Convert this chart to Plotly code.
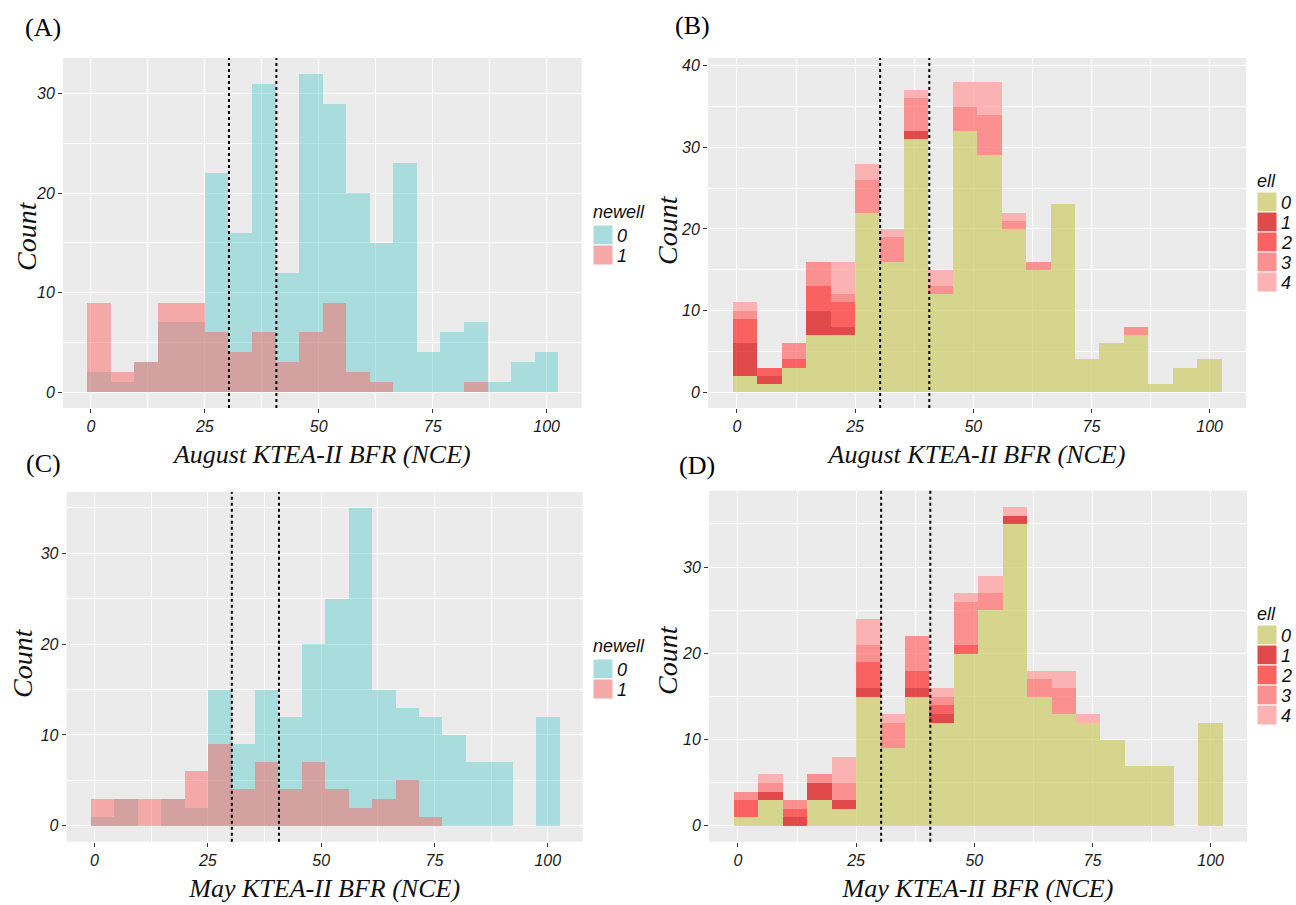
import numpy as np
import plotly.graph_objects as go
from plotly.subplots import make_subplots

# Histogram bins (NCE score), shared by all four panels
bin_centers = [1.74, 6.91, 12.08, 17.25, 22.42, 27.59, 32.76, 37.93, 43.10, 48.27,
               53.44, 58.61, 63.78, 68.95, 74.12, 79.29, 84.46, 89.63, 94.80, 99.97]
bin_width = 5.17
score_ticks = [0, 25, 50, 75, 100]
cutoffs = [30.3, 40.7]

# August counts
aug_newell0 = [2, 1, 3, 7, 7, 22, 16, 31, 12, 32, 29, 20, 15, 23, 4, 6, 7, 1, 3, 4]
aug_newell1 = [9, 2, 3, 9, 9, 6, 4, 6, 3, 6, 9, 2, 1, 0, 0, 0, 1, 0, 0, 0]
aug_ell0 = [2, 1, 3, 7, 7, 22, 16, 31, 12, 32, 29, 20, 15, 23, 4, 6, 7, 1, 3, 4]
aug_ell1 = [4, 1, 0, 3, 1, 0, 0, 1, 0, 0, 0, 0, 0, 0, 0, 0, 0, 0, 0, 0]
aug_ell2 = [3, 1, 1, 3, 3, 0, 0, 0, 0, 0, 0, 0, 0, 0, 0, 0, 0, 0, 0, 0]
aug_ell3 = [1, 0, 2, 3, 1, 4, 3, 4, 1, 3, 5, 1, 1, 0, 0, 0, 1, 0, 0, 0]
aug_ell4 = [1, 0, 0, 0, 4, 2, 1, 1, 2, 3, 4, 1, 0, 0, 0, 0, 0, 0, 0, 0]

# May counts
may_newell0 = [1, 3, 0, 3, 2, 15, 9, 15, 12, 20, 25, 35, 15, 13, 12, 10, 7, 7, 0, 12]
may_newell1 = [3, 3, 3, 3, 6, 9, 4, 7, 4, 7, 4, 2, 3, 5, 1, 0, 0, 0, 0, 0]
may_ell0 = [1, 3, 0, 3, 2, 15, 9, 15, 12, 20, 25, 35, 15, 13, 12, 10, 7, 7, 0, 12]
may_ell1 = [0, 1, 1, 2, 1, 1, 0, 1, 1, 0, 0, 1, 0, 0, 0, 0, 0, 0, 0, 0]
may_ell2 = [2, 0, 1, 0, 0, 3, 0, 2, 1, 1, 0, 0, 0, 0, 0, 0, 0, 0, 0, 0]
may_ell3 = [1, 1, 1, 1, 2, 2, 3, 4, 1, 5, 2, 0, 2, 3, 0, 0, 0, 0, 0, 0]
may_ell4 = [0, 1, 0, 0, 3, 3, 1, 0, 1, 1, 2, 1, 1, 2, 1, 0, 0, 0, 0, 0]

newell_levels = ["0", "1"]
ell_levels = ["0", "1", "2", "3", "4"]

newell_fill = ["rgba(103,207,207,0.5)", "rgba(255,101,101,0.5)"]
newell_key = ["#A9DDDD", "#F5A8A8"]
ell_fill = ["rgba(206,206,111,0.75)", "rgba(220,20,20,0.75)", "rgba(255,52,52,0.75)",
            "rgba(255,114,114,0.75)", "rgba(255,159,159,0.75)"]
ell_key = ["#D5D58E", "#E04A4A", "#FA6262", "#FA9090", "#FAB2B2"]

BG = "#EBEBEB"
TICK_FONT = dict(family="Liberation Sans", size=16, style="italic", color="#1a1a1a")
YTITLE_FONT = dict(family="Liberation Serif", size=28, style="italic", color="#111111")
XTITLE_FONT = dict(family="Liberation Serif", size=26, style="italic", color="#111111")
LEG_FONT = dict(family="Liberation Sans", size=18, style="italic", color="#111111")

W, H = 1296, 905
fig = make_subplots(rows=2, cols=2)


def add_overlay(row, col, series):
    for lvl, vals, fill in zip(newell_levels, series, newell_fill):
        fig.add_trace(go.Bar(x=bin_centers, y=vals, width=bin_width,
                             marker=dict(color=fill, line=dict(width=0)),
                             name=lvl, showlegend=False),
                      row=row, col=col)


def add_stack(row, col, series):
    base = np.zeros(len(bin_centers))
    for lvl, vals, fill in zip(ell_levels, series, ell_fill):
        vals = np.array(vals, dtype=float)
        fig.add_trace(go.Bar(x=bin_centers, y=vals, base=base.copy(), width=bin_width,
                             marker=dict(color=fill, line=dict(width=0)),
                             name=lvl, showlegend=False),
                      row=row, col=col)
        base += vals


def add_key_block(title, levels, colors, left, title_y, key_top, key_size=20):
    """Legend block: title, then a column of touching square keys with labels."""
    fig.add_annotation(text=title, x=(left - 2) / W, y=1 - title_y / H, xref="paper",
                       yref="paper", showarrow=False, xanchor="left", yanchor="middle",
                       font=LEG_FONT)
    for k, (lvl, c) in enumerate(zip(levels, colors)):
        top = key_top + k * key_size
        fig.add_shape(type="rect", xref="paper", yref="paper",
                      x0=left / W, x1=(left + key_size) / W,
                      y0=1 - (top + key_size) / H, y1=1 - top / H,
                      fillcolor=c, line=dict(color="white", width=1))
        fig.add_annotation(text=lvl, x=(left + key_size + 2) / W,
                           y=1 - (top + key_size / 2 + 1) / H, xref="paper", yref="paper",
                           showarrow=False, xanchor="left", yanchor="middle", font=LEG_FONT)


add_overlay(1, 1, [aug_newell0, aug_newell1])
add_stack(1, 2, [aug_ell0, aug_ell1, aug_ell2, aug_ell3, aug_ell4])
add_overlay(2, 1, [may_newell0, may_newell1])
add_stack(2, 2, [may_ell0, may_ell1, may_ell2, may_ell3, may_ell4])

add_key_block("newell", newell_levels, newell_key, 593, 212, 225)
add_key_block("ell", ell_levels, ell_key, 1257, 181, 192)
add_key_block("newell", newell_levels, newell_key, 593, 646, 659)
add_key_block("ell", ell_levels, ell_key, 1257, 614, 625)

# plot areas in pixels: (left, right, top, bottom)
areas = {
    1: (63, 581.7, 58, 408),
    2: (708, 1246, 58, 408),
    3: (66.7, 582.7, 492, 841.7),
    4: (709, 1247, 490.7, 841.7),
}
y_ranges = {1: [-1.6, 33.6], 2: [-1.95, 40.95], 3: [-1.75, 36.75], 4: [-1.85, 38.85]}
x_titles = {1: "August KTEA-II BFR (NCE)", 2: "August KTEA-II BFR (NCE)",
            3: "May KTEA-II BFR (NCE)", 4: "May KTEA-II BFR (NCE)"}
# "Count" label centres, in pixels
y_title_pos = {1: (26, 236), 2: (667, 230), 3: (22, 663), 4: (667, 660)}

layout = {}
for i in range(1, 5):
    l, r, t, b = areas[i]
    sx = "" if i == 1 else str(i)
    layout["xaxis" + sx] = dict(
        domain=[l / W, r / W], range=[-6.12, 107.7], tickvals=score_ticks,
        ticks="outside", ticklen=4, tickcolor="#333333", tickwidth=1,
        tickfont=TICK_FONT, showgrid=True, gridcolor="white", gridwidth=1.3,
        minor=dict(dtick=12.5, tick0=12.5, showgrid=True, gridcolor="white", gridwidth=0.6),
        zeroline=False, showline=False,
        title=dict(text=x_titles[i], font=XTITLE_FONT, standoff=10),
    )
    layout["yaxis" + sx] = dict(
        domain=[1 - b / H, 1 - t / H], range=y_ranges[i], dtick=10, tick0=0,
        ticks="outside", ticklen=4, tickcolor="#333333", tickwidth=1,
        tickfont=TICK_FONT, showgrid=True, gridcolor="white", gridwidth=1.3,
        minor=dict(dtick=5, tick0=5, showgrid=True, gridcolor="white", gridwidth=0.6),
        zeroline=False, showline=False,
    )

fig.update_layout(**layout)

for i, (px, py) in y_title_pos.items():
    fig.add_annotation(text="Count", x=px / W, y=1 - py / H, xref="paper", yref="paper",
                       showarrow=False, textangle=-90, xanchor="center", yanchor="middle",
                       font=YTITLE_FONT)

# reference cut-off lines
for i in range(1, 5):
    sx = "" if i == 1 else str(i)
    for c in cutoffs:
        fig.add_shape(type="line", xref="x" + sx, yref="y" + sx + " domain",
                      x0=c, x1=c, y0=0, y1=1,
                      line=dict(color="black", width=2, dash="dot"), layer="above")

# panel letters
panel_letters = [("(A)", 43, 28), ("(B)", 692, 25), ("(C)", 43, 463), ("(D)", 697, 465)]
for txt, px, py in panel_letters:
    fig.add_annotation(text=txt, x=px / W, y=1 - py / H, xref="paper", yref="paper",
                       showarrow=False, xanchor="center", yanchor="middle",
                       font=dict(family="Liberation Serif", size=26, color="black"))

fig.update_layout(
    width=W, height=H, margin=dict(l=0, r=0, t=0, b=0),
    paper_bgcolor="white", plot_bgcolor=BG, barmode="overlay", bargap=0,
    showlegend=False, font=dict(family="Liberation Sans"),
)

fig.write_html("out.html")
